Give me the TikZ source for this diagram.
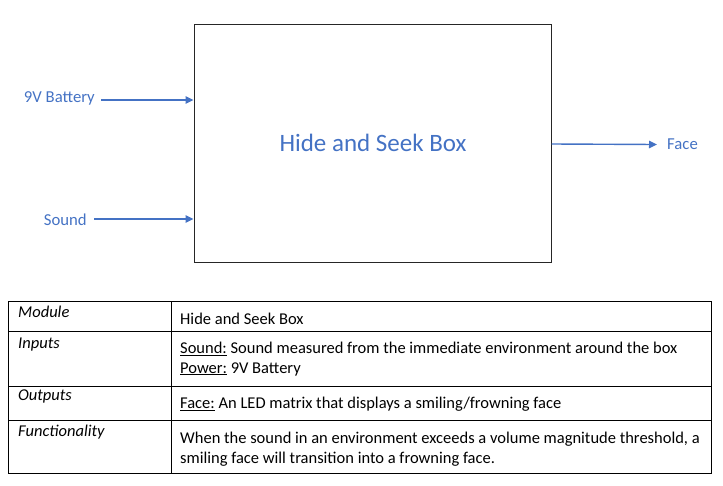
\documentclass[tikz,border=0pt]{standalone}
\usepackage{fontspec}
\setmainfont{Carlito}
\usetikzlibrary{arrows.meta}
\definecolor{accent}{HTML}{4472C4}
\definecolor{boxline}{HTML}{262626}
\tikzset{
  lbl/.style={text=accent, font=\fontsize{16.7}{19}\selectfont, inner sep=0pt},
  flow/.style={draw=accent, line width=1.4pt, -{Triangle[length=8pt,width=7.5pt]}},
  cell/.style={font=\fontsize{16.5}{20}\selectfont, inner sep=0pt, anchor=west},
  head/.style={cell, font=\fontsize{16.5}{20}\selectfont\itshape},
  grid/.style={draw=black, line width=0.8pt}
}
\begin{document}
\begin{tikzpicture}[x=1pt,y=-1pt]
\useasboundingbox (0,0) rectangle (723,485);
% main block
\node[draw=boxline, line width=1pt, minimum width=357pt, minimum height=238pt, inner sep=0pt] (box) at (372.5,143) {};
\node[text=accent, font=\fontsize{25}{28}\selectfont] (boxlbl) at (373,143) {Hide and Seek Box};
% inputs / outputs
\node[lbl, anchor=east] (bat) at (95,98) {9V Battery};
\node[lbl, anchor=east] (snd) at (87,220) {Sound};
\node[lbl, anchor=west] (face) at (667,144) {Face};
\coordinate (batin) at (box.west |- 0,100);
\coordinate (sndin) at (box.west |- 0,219);
\coordinate (faceout) at (box.east |- 0,144);
\coordinate (batstart) at (101,100);
\coordinate (sndstart) at (94,219);
\coordinate (faceend) at (657,144.5);
\draw[flow] (batstart) -- (batin);
\draw[flow] (sndstart) -- (sndin);
\draw[flow] (faceout) -- (faceend);
% table
\draw[grid] (8,301) rectangle (711,473);
\draw[grid] (171,301) -- (171,473);
\draw[grid] (8,331.5) -- (711,331.5);
\draw[grid] (8,386) -- (711,386);
\draw[grid] (8,420.5) -- (711,420.5);
\node[head] (hmod) at (18,312) {Module};
\node[head] (hin) at (18,345) {Inputs};
\node[head] (hout) at (18,396) {Outputs};
\node[head] (hfun) at (18,432) {Functionality};
\node[cell] (cmod) at (180,319) {Hide and Seek Box};
\node[cell] (cin1) at (180,349) {\underline{Sound:} Sound measured from the immediate environment around the box};
\node[cell] (cin2) at (180,369) {\underline{Power:} 9V Battery};
\node[cell] (cout) at (180,404) {\underline{Face:} An LED matrix that displays a smiling/frowning face};
\node[cell] (cfun1) at (180,439) {When the sound in an environment exceeds a volume magnitude threshold, a};
\node[cell] (cfun2) at (180,459) {smiling face will transition into a frowning face.};
\end{tikzpicture}
\end{document}
